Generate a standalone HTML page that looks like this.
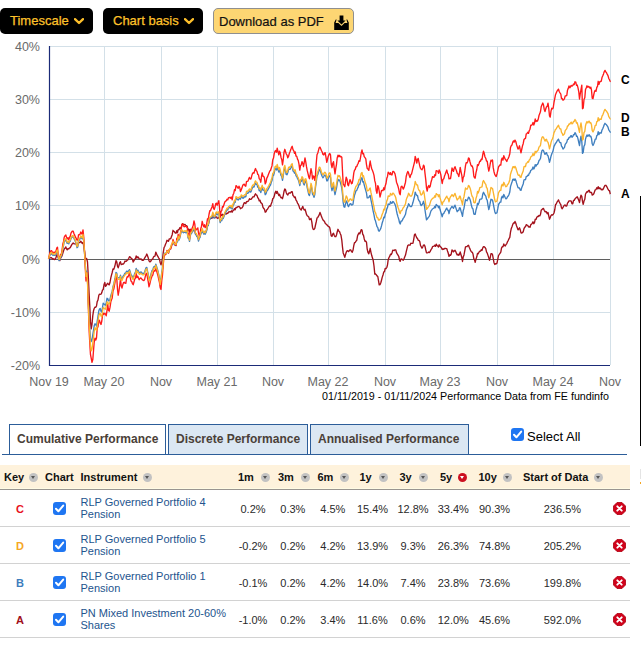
<!DOCTYPE html>
<html><head><meta charset="utf-8"><title>Performance chart</title>
<style>
*{box-sizing:border-box;margin:0;padding:0}
html,body{width:641px;height:648px;overflow:hidden;background:#fff;font-family:"Liberation Sans",Arial,sans-serif;position:relative}
.btn{position:absolute;top:8px;height:26px;border-radius:5px;font-size:13px;line-height:26px;white-space:nowrap}
.blk{background:#000;color:#fec22a;-webkit-text-stroke:0.25px #fec22a}
.blk svg{position:absolute;top:10px}
#b1{left:0;width:93px;padding-left:10px}
#b2{left:103px;width:100px;padding-left:10px}
#b3{left:213px;width:141px;background:#fdd673;border:1px solid #8f8f8f;color:#111;padding-left:5px;line-height:25px;-webkit-text-stroke:0.2px #111}
#b3 svg{position:absolute;left:119.5px;top:4.5px}
.chart{position:absolute;left:0;top:0}
.yl{font-size:12.5px;fill:#6a6a6a}
.xl{font-size:12.5px;fill:#6a6a6a}
.cr{font-size:11px;fill:#000}
.sl{font-size:12px;font-weight:bold;fill:#000}
.tabline{position:absolute;left:2px;top:454px;width:625px;height:1px;background:#2c5d99}
.tab{position:absolute;top:424px;height:30px;border:1px solid #2c5d99;border-bottom:none;font-size:12px;font-weight:bold;color:#4a4038;line-height:28px;white-space:nowrap}
#t1{left:9px;width:157px;background:#fff;padding-left:7px}
#t2{left:168px;width:140px;background:#dbe7f3;padding-left:7px}
#t3{left:310px;width:159px;background:#dbe7f3;padding-left:7px}
.cb{position:absolute;width:13px;height:13px;border-radius:3px;background:#1f76f2}
.cb svg{position:absolute;left:0;top:0}
#sa{position:absolute;left:527px;top:429px;font-size:13px;color:#000;line-height:15px}
.hdr{position:absolute;left:0;top:465px;width:630px;height:25px;background:linear-gradient(#fef2dc 0,#fef2dc 23px,#fffbe4 23px);border-bottom:1px solid #999590}
.h{position:absolute;top:471px;font-size:11px;font-weight:bold;color:#111;line-height:12px;white-space:nowrap}
.si{position:absolute;top:473px;width:9px;height:9px;border-radius:50%;background:#c2c2c2}
.si:after{content:"";position:absolute;left:2px;top:3px;border-left:2.5px solid transparent;border-right:2.5px solid transparent;border-top:3px solid #555}
.si.red{background:#cc1020}
.si.red:after{border-top-color:#fff}
.row{position:absolute;left:0;width:630px;height:37px;border-bottom:1px solid #d2d2d2}
.key{position:absolute;left:0;width:40px;text-align:center;font-size:11px;font-weight:bold;top:13px;line-height:12px}
.row .cb{left:53px;top:12px}
.ins{position:absolute;left:80.5px;top:6px;font-size:11px;line-height:12px;color:#23548e}
.v{position:absolute;top:13px;font-size:11px;color:#2a2a2a;line-height:12px;white-space:nowrap;transform:translateX(-50%)}
.del{position:absolute;left:613px;top:12px}
</style></head><body>
<div class="btn blk" id="b1">Timescale<svg style="left:74px" width="10" height="7" viewBox="0 0 10 7"><path d="M1 1.2 L5 5 L9 1.2" fill="none" stroke="#fdbf2b" stroke-width="2.4" stroke-linecap="round" stroke-linejoin="round"/></svg></div>
<div class="btn blk" id="b2">Chart basis<svg style="left:81px" width="10" height="7" viewBox="0 0 10 7"><path d="M1 1.2 L5 5 L9 1.2" fill="none" stroke="#fdbf2b" stroke-width="2.4" stroke-linecap="round" stroke-linejoin="round"/></svg></div>
<div class="btn" id="b3">Download as PDF<svg width="17" height="17" viewBox="0 0 17 17"><path d="M5.6 1.5 H9.4 V6.6 H11.6 L7.5 10.6 L3.4 6.6 H5.6 Z" fill="#000"/><path d="M0.2 15.9 V8.6 L1.8 5.6 H2.6 L1.6 8.9 H4.4 L7.5 11.9 L10.6 8.9 H13.4 L12.4 5.6 H13.2 L14.8 8.6 V15.9 Z" fill="#000"/></svg></div>
<svg class="chart" width="641" height="410" viewBox="0 0 641 410">
<line x1="104.5" y1="46" x2="104.5" y2="365" stroke="#d3e0e8" stroke-width="1"/>
<line x1="161.5" y1="46" x2="161.5" y2="365" stroke="#d3e0e8" stroke-width="1"/>
<line x1="217.5" y1="46" x2="217.5" y2="365" stroke="#d3e0e8" stroke-width="1"/>
<line x1="273.5" y1="46" x2="273.5" y2="365" stroke="#d3e0e8" stroke-width="1"/>
<line x1="328.5" y1="46" x2="328.5" y2="365" stroke="#d3e0e8" stroke-width="1"/>
<line x1="385.5" y1="46" x2="385.5" y2="365" stroke="#d3e0e8" stroke-width="1"/>
<line x1="440.5" y1="46" x2="440.5" y2="365" stroke="#d3e0e8" stroke-width="1"/>
<line x1="497.5" y1="46" x2="497.5" y2="365" stroke="#d3e0e8" stroke-width="1"/>
<line x1="553.5" y1="46" x2="553.5" y2="365" stroke="#d3e0e8" stroke-width="1"/>
<line x1="610.5" y1="46" x2="610.5" y2="365" stroke="#d3e0e8" stroke-width="1"/>
<line x1="49" y1="46.5" x2="611" y2="46.5" stroke="#d3e0e8" stroke-width="1"/>
<line x1="49" y1="99.5" x2="611" y2="99.5" stroke="#d3e0e8" stroke-width="1"/>
<line x1="49" y1="152.5" x2="611" y2="152.5" stroke="#d3e0e8" stroke-width="1"/>
<line x1="49" y1="205.5" x2="611" y2="205.5" stroke="#d3e0e8" stroke-width="1"/>
<line x1="49" y1="312.5" x2="611" y2="312.5" stroke="#d3e0e8" stroke-width="1"/>
<line x1="49" y1="259.5" x2="610" y2="259.5" stroke="#5f5f5f" stroke-width="1"/>
<line x1="49.5" y1="46" x2="49.5" y2="366" stroke="#1b2b78" stroke-width="1.2"/>
<line x1="49" y1="365.5" x2="610" y2="365.5" stroke="#1b2b78" stroke-width="1.2"/>
<text x="40" y="50.5" text-anchor="end" class="yl">40%</text>
<text x="40" y="103.5" text-anchor="end" class="yl">30%</text>
<text x="40" y="156.5" text-anchor="end" class="yl">20%</text>
<text x="40" y="209.5" text-anchor="end" class="yl">10%</text>
<text x="40" y="263.5" text-anchor="end" class="yl">0%</text>
<text x="40" y="316.5" text-anchor="end" class="yl">-10%</text>
<text x="40" y="369.5" text-anchor="end" class="yl">-20%</text>
<text x="49" y="386" text-anchor="middle" class="xl">Nov 19</text>
<text x="104" y="386" text-anchor="middle" class="xl">May 20</text>
<text x="161" y="386" text-anchor="middle" class="xl">Nov</text>
<text x="217" y="386" text-anchor="middle" class="xl">May 21</text>
<text x="273" y="386" text-anchor="middle" class="xl">Nov</text>
<text x="328" y="386" text-anchor="middle" class="xl">May 22</text>
<text x="385" y="386" text-anchor="middle" class="xl">Nov</text>
<text x="440" y="386" text-anchor="middle" class="xl">May 23</text>
<text x="497" y="386" text-anchor="middle" class="xl">Nov</text>
<text x="553" y="386" text-anchor="middle" class="xl">May 24</text>
<text x="610" y="386" text-anchor="middle" class="xl">Nov</text>
<text x="322" y="400" textLength="287" lengthAdjust="spacingAndGlyphs" class="cr">01/11/2019 - 01/11/2024 Performance Data from FE fundinfo</text>
<polyline fill="none" stroke="#a3111b" stroke-width="1.35" stroke-linejoin="round" points="48.5,258.7 49.2,258.2 50.0,257.7 50.8,257.8 51.5,257.7 52.2,258.4 53.0,259.2 53.8,258.8 54.5,259.5 55.2,259.4 56.0,257.4 56.8,255.3 57.5,253.4 58.2,257.7 59.0,259.6 59.8,260.6 60.5,258.5 61.2,257.2 62.0,255.8 62.8,253.2 63.5,251.0 64.2,249.0 65.0,248.2 65.8,246.9 66.5,248.7 67.2,249.9 68.0,248.6 68.8,249.0 69.5,247.8 70.2,247.8 71.0,246.1 71.8,244.7 72.5,243.6 73.2,243.0 74.0,243.8 74.8,243.9 75.5,243.9 76.2,243.9 77.0,244.6 77.8,245.0 78.5,242.7 79.2,242.4 80.0,242.5 80.8,241.2 81.5,242.3 82.2,243.3 83.0,242.4 83.8,246.3 84.5,250.9 85.2,256.4 86.0,259.2 86.8,258.8 87.5,262.0 88.2,274.4 89.0,291.4 89.8,306.6 90.5,321.9 91.2,328.8 92.0,324.3 92.8,315.6 93.5,310.8 94.2,308.5 95.0,307.1 95.8,307.3 96.5,306.0 97.2,301.6 98.0,300.0 98.8,295.3 99.5,294.2 100.2,294.4 101.0,294.2 101.8,292.6 102.5,290.0 103.2,289.6 104.0,284.8 104.8,282.4 105.5,286.3 106.2,285.7 107.0,283.9 107.8,283.2 108.5,284.5 109.2,284.9 110.0,282.5 110.8,277.9 111.5,275.1 112.2,272.5 113.0,269.0 113.8,269.3 114.5,267.2 115.2,264.6 116.0,260.7 116.8,261.9 117.5,266.2 118.2,267.8 119.0,265.3 119.8,262.4 120.5,261.8 121.2,264.6 122.0,264.4 122.8,263.9 123.5,264.0 124.2,262.8 125.0,261.0 125.8,261.5 126.5,261.1 127.2,260.3 128.0,259.8 128.8,258.2 129.5,256.7 130.2,257.0 131.0,258.1 131.8,258.5 132.5,259.6 133.2,262.0 134.0,260.7 134.8,259.1 135.5,258.7 136.2,256.0 137.0,258.0 137.8,256.8 138.5,257.6 139.2,258.8 140.0,259.1 140.8,259.0 141.5,259.1 142.2,260.3 143.0,260.4 143.8,259.7 144.5,258.3 145.2,257.1 146.0,255.8 146.8,254.0 147.5,255.8 148.2,257.7 149.0,260.8 149.8,261.8 150.5,261.6 151.2,260.4 152.0,259.4 152.8,258.9 153.5,256.9 154.2,256.3 155.0,256.1 155.8,252.1 156.5,253.7 157.2,255.4 158.0,256.7 158.8,258.1 159.5,259.1 160.2,262.5 161.0,264.9 161.8,261.7 162.5,259.0 163.2,252.9 164.0,247.8 164.8,246.2 165.5,244.3 166.2,242.8 167.0,240.3 167.8,241.0 168.5,241.3 169.2,239.0 170.0,238.8 170.8,238.5 171.5,236.6 172.2,234.7 173.0,230.3 173.8,231.3 174.5,231.8 175.2,233.0 176.0,233.2 176.8,230.7 177.5,232.7 178.2,229.6 179.0,229.7 179.8,227.7 180.5,228.2 181.2,227.5 182.0,224.3 182.8,223.6 183.5,224.6 184.2,224.7 185.0,224.5 185.8,225.6 186.5,225.7 187.2,226.3 188.0,229.8 188.8,229.3 189.5,232.0 190.2,229.3 191.0,229.4 191.8,231.4 192.5,231.1 193.2,230.6 194.0,228.4 194.8,230.3 195.5,233.6 196.2,234.4 197.0,235.9 197.8,237.2 198.5,238.8 199.2,237.2 200.0,236.5 200.8,233.1 201.5,232.0 202.2,230.3 203.0,232.1 203.8,233.2 204.5,231.4 205.2,232.5 206.0,231.6 206.8,228.6 207.5,225.1 208.2,225.0 209.0,221.5 209.8,218.7 210.5,218.3 211.2,218.0 212.0,218.3 212.8,216.4 213.5,217.5 214.2,217.5 215.0,217.7 215.8,216.8 216.5,216.8 217.2,218.3 218.0,218.1 218.8,217.5 219.5,217.8 220.2,216.2 221.0,214.6 221.8,215.5 222.5,214.3 223.2,215.6 224.0,214.9 224.8,213.9 225.5,213.9 226.2,214.1 227.0,213.1 227.8,213.5 228.5,212.0 229.2,212.0 230.0,211.6 230.8,212.0 231.5,210.8 232.2,212.1 233.0,210.5 233.8,210.1 234.5,208.6 235.2,209.7 236.0,207.4 236.8,207.6 237.5,206.9 238.2,206.6 239.0,206.5 239.8,207.2 240.5,208.7 241.2,208.1 242.0,207.8 242.8,206.7 243.5,204.4 244.2,202.7 245.0,202.9 245.8,203.6 246.5,201.6 247.2,201.5 248.0,201.5 248.8,200.3 249.5,198.7 250.2,199.3 251.0,199.4 251.8,198.5 252.5,197.2 253.2,196.8 254.0,196.9 254.8,195.0 255.5,193.8 256.2,194.9 257.0,195.4 257.8,197.7 258.5,198.4 259.2,200.9 260.0,200.2 260.8,202.7 261.5,203.1 262.2,204.0 263.0,207.4 263.8,208.5 264.5,209.3 265.2,212.2 266.0,211.7 266.8,209.8 267.5,209.2 268.2,208.0 269.0,206.7 269.8,205.7 270.5,206.2 271.2,203.9 272.0,201.9 272.8,198.5 273.5,198.2 274.2,196.3 275.0,193.0 275.8,191.2 276.5,193.4 277.2,191.5 278.0,193.6 278.8,195.6 279.5,194.3 280.2,196.2 281.0,197.8 281.8,197.4 282.5,198.7 283.2,195.8 284.0,191.5 284.8,188.9 285.5,189.7 286.2,192.4 287.0,194.3 287.8,195.0 288.5,193.4 289.2,192.8 290.0,193.2 290.8,192.5 291.5,191.7 292.2,191.7 293.0,195.6 293.8,196.3 294.5,197.6 295.2,197.0 296.0,200.2 296.8,201.2 297.5,203.1 298.2,204.1 299.0,206.0 299.8,208.6 300.5,209.2 301.2,210.1 302.0,208.1 302.8,206.4 303.5,208.7 304.2,210.0 305.0,209.3 305.8,211.8 306.5,214.4 307.2,215.7 308.0,216.3 308.8,217.0 309.5,219.6 310.2,219.4 311.0,218.4 311.8,221.8 312.5,227.2 313.2,229.4 314.0,229.5 314.8,228.3 315.5,225.0 316.2,222.0 317.0,218.1 317.8,217.4 318.5,216.2 319.2,214.9 320.0,212.4 320.8,214.5 321.5,216.6 322.2,218.2 323.0,219.9 323.8,220.7 324.5,221.4 325.2,223.2 326.0,224.0 326.8,224.7 327.5,225.5 328.2,226.3 329.0,226.6 329.8,227.9 330.5,231.7 331.2,235.8 332.0,236.4 332.8,233.9 333.5,233.2 334.2,235.3 335.0,236.6 335.8,236.7 336.5,235.0 337.2,232.0 338.0,229.3 338.8,231.2 339.5,231.5 340.2,233.5 341.0,235.3 341.8,240.1 342.5,247.1 343.2,252.9 344.0,255.0 344.8,257.4 345.5,254.7 346.2,252.4 347.0,250.9 347.8,250.7 348.5,251.6 349.2,251.0 350.0,249.8 350.8,249.9 351.5,251.6 352.2,252.2 353.0,250.3 353.8,245.5 354.5,242.7 355.2,242.5 356.0,241.1 356.8,240.2 357.5,236.1 358.2,234.3 359.0,232.9 359.8,233.9 360.5,231.8 361.2,229.6 362.0,230.1 362.8,234.5 363.5,235.3 364.2,238.7 365.0,241.4 365.8,241.2 366.5,242.3 367.2,249.2 368.0,252.5 368.8,253.8 369.5,251.3 370.2,248.3 371.0,252.6 371.8,255.8 372.5,258.0 373.2,260.3 374.0,266.0 374.8,274.1 375.5,274.0 376.2,274.7 377.0,275.9 377.8,276.5 378.5,280.7 379.2,284.9 380.0,284.7 380.8,282.8 381.5,280.2 382.2,277.4 383.0,275.0 383.8,271.9 384.5,271.6 385.2,268.4 386.0,268.7 386.8,267.5 387.5,264.8 388.2,259.7 389.0,257.5 389.8,256.2 390.5,254.1 391.2,254.6 392.0,253.0 392.8,250.1 393.5,250.4 394.2,250.5 395.0,249.8 395.8,249.9 396.5,252.6 397.2,253.9 398.0,255.1 398.8,256.5 399.5,260.0 400.2,261.4 401.0,258.9 401.8,259.2 402.5,259.6 403.2,260.3 404.0,258.8 404.8,256.7 405.5,255.1 406.2,251.8 407.0,248.7 407.8,245.5 408.5,244.9 409.2,245.1 410.0,245.2 410.8,243.2 411.5,243.3 412.2,243.3 413.0,243.2 413.8,238.9 414.5,234.7 415.2,234.0 416.0,236.1 416.8,237.9 417.5,238.4 418.2,240.3 419.0,240.4 419.8,241.7 420.5,245.5 421.2,246.7 422.0,248.2 422.8,246.8 423.5,245.1 424.2,244.9 425.0,246.4 425.8,250.0 426.5,252.8 427.2,252.9 428.0,252.6 428.8,252.0 429.5,252.5 430.2,251.4 431.0,249.7 431.8,248.7 432.5,246.8 433.2,246.3 434.0,246.2 434.8,245.2 435.5,246.4 436.2,244.2 437.0,245.6 437.8,246.0 438.5,247.0 439.2,244.8 440.0,246.1 440.8,247.1 441.5,247.7 442.2,249.5 443.0,248.9 443.8,249.4 444.5,248.3 445.2,248.3 446.0,248.5 446.8,248.6 447.5,251.0 448.2,253.0 449.0,256.4 449.8,254.9 450.5,255.4 451.2,254.1 452.0,250.0 452.8,250.6 453.5,251.8 454.2,251.0 455.0,250.3 455.8,251.7 456.5,253.4 457.2,255.0 458.0,254.2 458.8,255.3 459.5,254.2 460.2,252.0 461.0,254.7 461.8,257.5 462.5,261.5 463.2,257.1 464.0,254.9 464.8,250.6 465.5,246.8 466.2,246.6 467.0,246.7 467.8,245.7 468.5,245.3 469.2,247.3 470.0,248.9 470.8,250.9 471.5,252.0 472.2,252.1 473.0,254.0 473.8,258.7 474.5,259.8 475.2,262.4 476.0,258.9 476.8,256.8 477.5,253.4 478.2,253.8 479.0,252.2 479.8,251.1 480.5,251.2 481.2,249.8 482.0,250.4 482.8,247.8 483.5,246.6 484.2,246.6 485.0,247.5 485.8,248.6 486.5,251.8 487.2,253.0 488.0,255.4 488.8,257.8 489.5,260.2 490.2,257.7 491.0,253.7 491.8,253.6 492.5,254.5 493.2,258.3 494.0,262.7 494.8,264.5 495.5,263.7 496.2,263.9 497.0,263.1 497.8,259.1 498.5,255.6 499.2,254.5 500.0,253.3 500.8,252.2 501.5,248.1 502.2,246.7 503.0,246.7 503.8,244.0 504.5,245.5 505.2,246.0 506.0,244.7 506.8,243.6 507.5,241.7 508.2,240.6 509.0,238.7 509.8,237.4 510.5,232.1 511.2,228.8 512.0,226.8 512.8,224.4 513.5,223.0 514.2,223.2 515.0,221.4 515.8,223.3 516.5,225.7 517.2,227.6 518.0,229.9 518.8,229.1 519.5,227.8 520.2,229.7 521.0,232.8 521.8,233.1 522.5,232.4 523.2,231.9 524.0,228.6 524.8,227.1 525.5,226.7 526.2,224.6 527.0,225.1 527.8,225.4 528.5,227.0 529.2,226.7 530.0,227.3 530.8,224.6 531.5,224.1 532.2,223.4 533.0,221.8 533.8,223.7 534.5,222.6 535.2,219.3 536.0,219.4 536.8,217.3 537.5,216.4 538.2,216.5 539.0,215.5 539.8,215.9 540.5,214.3 541.2,210.3 542.0,209.5 542.8,208.7 543.5,208.4 544.2,210.2 545.0,211.8 545.8,211.5 546.5,211.9 547.2,213.7 548.0,212.5 548.8,216.1 549.5,219.2 550.2,217.8 551.0,215.4 551.8,214.7 552.5,215.1 553.2,214.5 554.0,213.0 554.8,209.5 555.5,204.8 556.2,204.0 557.0,202.2 557.8,201.0 558.5,199.9 559.2,201.8 560.0,203.3 560.8,204.7 561.5,207.9 562.2,208.7 563.0,207.3 563.8,206.0 564.5,205.1 565.2,205.0 566.0,206.2 566.8,205.9 567.5,203.1 568.2,202.3 569.0,200.9 569.8,200.8 570.5,200.8 571.2,201.2 572.0,203.7 572.8,203.7 573.5,200.5 574.2,200.4 575.0,198.9 575.8,197.9 576.5,197.7 577.2,196.7 578.0,198.4 578.8,200.4 579.5,202.6 580.2,198.4 581.0,195.2 581.8,196.3 582.5,201.4 583.2,204.4 584.0,201.1 584.8,199.3 585.5,194.0 586.2,192.9 587.0,191.7 587.8,192.0 588.5,190.4 589.2,190.3 590.0,192.5 590.8,192.3 591.5,192.4 592.2,195.0 593.0,194.7 593.8,193.8 594.5,191.8 595.2,189.8 596.0,189.6 596.8,187.8 597.5,188.8 598.2,186.6 599.0,188.9 599.8,187.8 600.5,188.4 601.2,189.8 602.0,189.4 602.8,189.8 603.5,188.4 604.2,186.8 605.0,185.4 605.8,185.3 606.5,186.1 607.2,187.5 608.0,189.1 608.8,190.5 609.5,190.6 610.2,193.9 610.3,194.1"/>
<polyline fill="none" stroke="#3f7fbf" stroke-width="1.35" stroke-linejoin="round" points="48.5,258.7 49.2,256.9 50.0,255.1 50.8,254.0 51.5,253.7 52.2,254.5 53.0,255.4 53.8,254.7 54.5,255.3 55.2,255.3 56.0,253.9 56.8,251.9 57.5,251.2 58.2,256.9 59.0,260.5 59.8,259.9 60.5,257.4 61.2,256.7 62.0,253.3 62.8,248.6 63.5,245.5 64.2,241.8 65.0,240.6 65.8,240.0 66.5,241.8 67.2,243.4 68.0,242.4 68.8,243.8 69.5,241.9 70.2,241.3 71.0,238.6 71.8,237.4 72.5,236.8 73.2,236.8 74.0,238.6 74.8,240.0 75.5,241.9 76.2,244.3 77.0,247.7 77.8,247.0 78.5,241.1 79.2,240.1 80.0,238.9 80.8,237.1 81.5,238.1 82.2,238.9 83.0,235.7 83.8,241.8 84.5,252.6 85.2,263.1 86.0,275.4 86.8,271.2 87.5,280.3 88.2,299.6 89.0,317.1 89.8,329.2 90.5,338.7 91.2,341.5 92.0,339.9 92.8,334.5 93.5,330.4 94.2,325.8 95.0,323.8 95.8,324.5 96.5,326.2 97.2,321.4 98.0,316.2 98.8,311.0 99.5,309.1 100.2,308.5 101.0,311.2 101.8,312.1 102.5,307.4 103.2,303.2 104.0,304.1 104.8,304.8 105.5,305.3 106.2,302.7 107.0,298.3 107.8,298.7 108.5,300.9 109.2,300.9 110.0,299.2 110.8,295.7 111.5,293.4 112.2,291.2 113.0,286.7 113.8,283.9 114.5,280.7 115.2,277.4 116.0,272.4 116.8,273.3 117.5,277.3 118.2,277.7 119.0,277.9 119.8,277.5 120.5,275.1 121.2,278.7 122.0,279.0 122.8,276.8 123.5,275.6 124.2,274.6 125.0,273.1 125.8,273.0 126.5,271.2 127.2,271.2 128.0,272.0 128.8,270.7 129.5,269.6 130.2,271.7 131.0,274.7 131.8,275.6 132.5,277.3 133.2,277.9 134.0,275.6 134.8,273.1 135.5,272.2 136.2,268.5 137.0,271.3 137.8,270.1 138.5,271.4 139.2,272.9 140.0,272.7 140.8,271.9 141.5,272.4 142.2,273.2 143.0,273.5 143.8,273.5 144.5,272.5 145.2,270.2 146.0,267.8 146.8,267.4 147.5,271.1 148.2,274.0 149.0,278.4 149.8,279.6 150.5,276.1 151.2,273.2 152.0,270.6 152.8,269.9 153.5,267.4 154.2,266.5 155.0,266.9 155.8,264.1 156.5,266.3 157.2,268.4 158.0,271.1 158.8,274.9 159.5,278.3 160.2,283.1 161.0,278.8 161.8,272.1 162.5,268.6 163.2,260.9 164.0,254.2 164.8,253.1 165.5,253.3 166.2,253.6 167.0,251.1 167.8,252.4 168.5,253.0 169.2,250.5 170.0,249.3 170.8,247.8 171.5,245.3 172.2,244.4 173.0,242.3 173.8,244.0 174.5,244.6 175.2,245.4 176.0,245.5 176.8,241.9 177.5,241.8 178.2,237.3 179.0,240.0 179.8,238.0 180.5,234.9 181.2,231.6 182.0,231.2 182.8,232.2 183.5,232.8 184.2,232.3 185.0,232.1 185.8,232.8 186.5,231.7 187.2,232.5 188.0,238.0 188.8,237.7 189.5,241.4 190.2,236.1 191.0,233.8 191.8,233.0 192.5,231.4 193.2,230.5 194.0,228.7 194.8,230.7 195.5,234.4 196.2,234.9 197.0,236.6 197.8,237.7 198.5,241.0 199.2,238.7 200.0,237.5 200.8,233.6 201.5,232.7 202.2,229.9 203.0,232.4 203.8,234.1 204.5,233.0 205.2,234.2 206.0,232.5 206.8,230.3 207.5,226.1 208.2,225.7 209.0,221.1 209.8,218.8 210.5,218.7 211.2,217.7 212.0,217.5 212.8,213.8 213.5,215.5 214.2,218.0 215.0,217.4 215.8,214.3 216.5,213.5 217.2,214.7 218.0,213.5 218.8,213.3 219.5,219.2 220.2,222.6 221.0,220.6 221.8,220.6 222.5,217.7 223.2,218.5 224.0,216.5 224.8,214.0 225.5,212.6 226.2,211.4 227.0,209.6 227.8,210.0 228.5,208.1 229.2,207.8 230.0,207.0 230.8,208.0 231.5,207.0 232.2,209.2 233.0,205.6 233.8,204.5 234.5,201.8 235.2,202.4 236.0,198.4 236.8,198.7 237.5,199.4 238.2,200.0 239.0,198.8 239.8,198.7 240.5,199.1 241.2,196.7 242.0,197.1 242.8,198.2 243.5,198.0 244.2,197.0 245.0,196.5 245.8,196.8 246.5,193.4 247.2,193.1 248.0,193.3 248.8,191.8 249.5,190.9 250.2,192.1 251.0,191.8 251.8,189.3 252.5,187.5 253.2,187.0 254.0,187.1 254.8,184.6 255.5,183.1 256.2,184.2 257.0,184.6 257.8,187.2 258.5,187.7 259.2,190.7 260.0,190.2 260.8,192.6 261.5,189.7 262.2,187.7 263.0,190.2 263.8,190.1 264.5,191.0 265.2,194.7 266.0,193.8 266.8,191.0 267.5,190.4 268.2,189.1 269.0,187.7 269.8,185.9 270.5,185.0 271.2,182.6 272.0,180.6 272.8,175.8 273.5,175.5 274.2,173.1 275.0,169.2 275.8,168.5 276.5,170.0 277.2,166.9 278.0,169.6 278.8,172.0 279.5,169.9 280.2,172.0 281.0,175.5 281.8,176.7 282.5,180.3 283.2,176.1 284.0,170.1 284.8,167.8 285.5,171.0 286.2,174.5 287.0,174.7 287.8,172.5 288.5,169.8 289.2,169.2 290.0,169.4 290.8,168.0 291.5,166.4 292.2,165.8 293.0,170.9 293.8,171.6 294.5,173.2 295.2,172.1 296.0,175.7 296.8,176.6 297.5,178.5 298.2,179.6 299.0,182.1 299.8,185.6 300.5,181.8 301.2,181.5 302.0,178.7 302.8,179.9 303.5,183.6 304.2,185.0 305.0,181.3 305.8,181.0 306.5,183.5 307.2,187.6 308.0,191.2 308.8,194.8 309.5,195.5 310.2,191.1 311.0,185.8 311.8,188.6 312.5,194.1 313.2,195.1 314.0,197.4 314.8,194.6 315.5,187.2 316.2,182.3 317.0,176.2 317.8,174.5 318.5,172.1 319.2,169.7 320.0,170.1 320.8,172.4 321.5,174.7 322.2,176.5 323.0,177.8 323.8,176.5 324.5,175.1 325.2,175.2 326.0,176.7 326.8,180.9 327.5,180.9 328.2,178.9 329.0,176.2 329.8,175.7 330.5,177.4 331.2,186.6 332.0,190.7 332.8,187.1 333.5,185.9 334.2,190.3 335.0,194.7 335.8,190.9 336.5,188.1 337.2,183.6 338.0,179.5 338.8,180.5 339.5,180.0 340.2,181.8 341.0,184.7 341.8,188.2 342.5,194.5 343.2,202.6 344.0,206.8 344.8,207.2 345.5,203.8 346.2,200.9 347.0,202.0 347.8,205.4 348.5,206.6 349.2,205.2 350.0,203.8 350.8,203.6 351.5,205.0 352.2,204.9 353.0,204.2 353.8,198.5 354.5,195.3 355.2,193.2 356.0,190.7 356.8,190.4 357.5,188.4 358.2,187.1 359.0,184.2 359.8,184.6 360.5,181.5 361.2,178.3 362.0,177.7 362.8,182.0 363.5,181.6 364.2,184.8 365.0,187.8 365.8,190.6 366.5,193.1 367.2,197.9 368.0,197.9 368.8,197.5 369.5,196.1 370.2,195.4 371.0,200.1 371.8,203.9 372.5,207.6 373.2,211.3 374.0,214.8 374.8,219.4 375.5,220.8 376.2,223.6 377.0,226.6 377.8,227.6 378.5,230.7 379.2,231.2 380.0,229.9 380.8,228.4 381.5,225.9 382.2,223.0 383.0,220.5 383.8,217.2 384.5,217.7 385.2,214.3 386.0,212.6 386.8,208.9 387.5,207.4 388.2,204.0 389.0,204.4 389.8,204.3 390.5,201.6 391.2,203.0 392.0,203.3 392.8,201.5 393.5,201.9 394.2,203.0 395.0,204.4 395.8,206.7 396.5,210.9 397.2,214.0 398.0,216.9 398.8,219.4 399.5,222.5 400.2,224.0 401.0,221.2 401.8,221.1 402.5,219.9 403.2,218.4 404.0,217.4 404.8,215.7 405.5,214.3 406.2,210.5 407.0,208.1 407.8,206.6 408.5,203.8 409.2,204.6 410.0,206.3 410.8,206.6 411.5,206.5 412.2,204.9 413.0,202.3 413.8,199.1 414.5,196.8 415.2,192.1 416.0,194.1 416.8,195.5 417.5,195.5 418.2,198.9 419.0,200.8 419.8,201.5 420.5,204.4 421.2,205.6 422.0,204.8 422.8,203.4 423.5,201.3 424.2,204.1 425.0,210.0 425.8,215.4 426.5,219.8 427.2,219.1 428.0,217.8 428.8,216.9 429.5,215.9 430.2,213.4 431.0,210.9 431.8,209.9 432.5,208.8 433.2,208.5 434.0,208.1 434.8,206.4 435.5,207.7 436.2,204.5 437.0,205.3 437.8,205.7 438.5,207.8 439.2,206.2 440.0,209.3 440.8,212.1 441.5,214.3 442.2,216.7 443.0,213.8 443.8,213.4 444.5,211.8 445.2,210.8 446.0,209.2 446.8,208.0 447.5,210.1 448.2,210.2 449.0,213.7 449.8,210.2 450.5,208.6 451.2,207.7 452.0,206.4 452.8,207.4 453.5,208.3 454.2,206.6 455.0,205.2 455.8,207.6 456.5,209.7 457.2,211.7 458.0,210.6 458.8,210.3 459.5,207.8 460.2,207.9 461.0,211.1 461.8,213.6 462.5,216.3 463.2,210.8 464.0,208.2 464.8,203.5 465.5,199.6 466.2,200.3 467.0,200.8 467.8,199.3 468.5,197.1 469.2,197.5 470.0,199.4 470.8,202.3 471.5,205.8 472.2,208.0 473.0,209.0 473.8,213.9 474.5,214.4 475.2,214.3 476.0,210.0 476.8,207.5 477.5,203.3 478.2,204.6 479.0,202.5 479.8,199.4 480.5,199.2 481.2,199.1 482.0,198.5 482.8,193.9 483.5,192.3 484.2,193.6 485.0,195.2 485.8,196.2 486.5,199.2 487.2,200.2 488.0,205.3 488.8,209.6 489.5,206.9 490.2,203.0 491.0,199.2 491.8,199.8 492.5,200.0 493.2,203.3 494.0,207.6 494.8,211.7 495.5,213.6 496.2,213.2 497.0,212.7 497.8,208.7 498.5,204.5 499.2,203.5 500.0,202.2 500.8,202.1 501.5,197.7 502.2,196.2 503.0,197.9 503.8,194.4 504.5,196.0 505.2,197.6 506.0,198.9 506.8,198.3 507.5,196.7 508.2,196.1 509.0,194.5 509.8,192.0 510.5,186.6 511.2,184.4 512.0,182.0 512.8,179.4 513.5,179.1 514.2,180.3 515.0,178.9 515.8,180.3 516.5,182.9 517.2,185.1 518.0,187.6 518.8,188.0 519.5,187.9 520.2,190.1 521.0,190.3 521.8,187.4 522.5,185.7 523.2,184.0 524.0,179.8 524.8,179.6 525.5,179.7 526.2,176.7 527.0,176.3 527.8,175.1 528.5,175.5 529.2,173.4 530.0,172.8 530.8,170.3 531.5,170.0 532.2,169.2 533.0,167.0 533.8,169.0 534.5,167.7 535.2,164.7 536.0,166.1 536.8,164.6 537.5,164.3 538.2,163.1 539.0,160.5 539.8,159.7 540.5,158.3 541.2,153.8 542.0,150.6 542.8,150.0 543.5,150.7 544.2,152.6 545.0,154.4 545.8,153.1 546.5,152.7 547.2,154.9 548.0,155.7 548.8,158.8 549.5,162.3 550.2,159.9 551.0,156.2 551.8,153.7 552.5,152.5 553.2,150.1 554.0,146.4 554.8,144.9 555.5,143.2 556.2,142.8 557.0,141.1 557.8,140.0 558.5,139.1 559.2,141.3 560.0,142.6 560.8,142.7 561.5,146.1 562.2,147.0 563.0,149.1 563.8,148.2 564.5,147.3 565.2,144.4 566.0,143.3 566.8,142.2 567.5,139.5 568.2,139.4 569.0,137.5 569.8,137.6 570.5,136.3 571.2,135.6 572.0,137.3 572.8,136.6 573.5,134.7 574.2,134.8 575.0,132.7 575.8,133.9 576.5,136.3 577.2,136.1 578.0,138.9 578.8,142.7 579.5,145.6 580.2,140.3 581.0,136.2 581.8,141.4 582.5,153.4 583.2,152.4 584.0,146.2 584.8,144.6 585.5,139.1 586.2,136.8 587.0,134.9 587.8,136.4 588.5,135.3 589.2,134.7 590.0,136.5 590.8,136.2 591.5,138.4 592.2,143.8 593.0,145.5 593.8,143.8 594.5,141.8 595.2,139.1 596.0,139.1 596.8,135.5 597.5,135.1 598.2,131.6 599.0,134.5 599.8,132.7 600.5,133.1 601.2,133.1 602.0,130.0 602.8,128.6 603.5,126.8 604.2,124.8 605.0,123.3 605.8,124.3 606.5,124.8 607.2,125.9 608.0,127.2 608.8,129.9 609.5,131.0 610.2,132.2 610.0,132.2"/>
<polyline fill="none" stroke="#ff1a1a" stroke-width="1.35" stroke-linejoin="round" points="48.5,258.7 49.2,255.6 50.0,252.5 50.8,250.8 51.5,250.6 52.2,251.9 53.0,253.6 53.8,252.2 54.5,252.2 55.2,252.9 56.0,251.1 56.8,248.0 57.5,247.2 58.2,255.3 59.0,258.2 59.8,257.4 60.5,254.4 61.2,254.8 62.0,250.5 62.8,244.3 63.5,241.7 64.2,237.3 65.0,235.7 65.8,235.0 66.5,237.2 67.2,238.9 68.0,237.7 68.8,239.9 69.5,237.3 70.2,236.5 71.0,233.2 71.8,231.8 72.5,231.1 73.2,231.2 74.0,233.7 74.8,235.4 75.5,237.2 76.2,238.4 77.0,240.1 77.8,240.1 78.5,234.8 79.2,234.9 80.0,234.3 80.8,232.0 81.5,233.4 82.2,234.2 83.0,229.9 83.8,237.6 84.5,250.9 85.2,266.4 86.0,281.0 86.8,272.5 87.5,279.4 88.2,301.7 89.0,327.7 89.8,343.5 90.5,354.7 91.2,358.2 92.0,362.4 92.8,359.6 93.5,350.7 94.2,342.3 95.0,338.1 95.8,340.1 96.5,338.0 97.2,328.3 98.0,326.8 98.8,320.0 99.5,320.3 100.2,323.1 101.0,324.5 101.8,321.0 102.5,315.7 103.2,313.1 104.0,314.3 104.8,313.2 105.5,314.3 106.2,315.8 107.0,310.3 107.8,304.5 108.5,310.3 109.2,311.2 110.0,307.4 110.8,301.9 111.5,299.9 112.2,298.0 113.0,291.0 113.8,289.1 114.5,285.2 115.2,281.3 116.0,275.0 116.8,278.7 117.5,289.3 118.2,295.2 119.0,290.7 119.8,284.6 120.5,279.0 121.2,285.7 122.0,288.1 122.8,284.7 123.5,282.6 124.2,282.3 125.0,283.2 125.8,283.4 126.5,278.9 127.2,276.7 128.0,277.0 128.8,274.7 129.5,272.4 130.2,277.4 131.0,281.0 131.8,281.8 132.5,283.8 133.2,284.7 134.0,281.9 134.8,279.0 135.5,278.1 136.2,273.5 137.0,277.5 137.8,276.3 138.5,278.3 139.2,279.7 140.0,278.3 140.8,277.9 141.5,278.6 142.2,279.6 143.0,280.2 143.8,280.6 144.5,279.8 145.2,276.9 146.0,273.9 146.8,273.3 147.5,277.9 148.2,281.4 149.0,286.8 149.8,284.1 150.5,280.8 151.2,278.3 152.0,276.2 152.8,275.2 153.5,271.8 154.2,270.6 155.0,271.1 155.8,267.5 156.5,270.3 157.2,273.1 158.0,275.9 158.8,279.6 159.5,282.7 160.2,287.7 161.0,289.5 161.8,280.1 162.5,274.8 163.2,264.9 164.0,256.9 164.8,255.1 165.5,254.4 166.2,254.0 167.0,250.4 167.8,252.1 168.5,253.0 169.2,249.4 170.0,249.2 170.8,248.8 171.5,246.2 172.2,243.9 173.0,239.5 173.8,242.0 174.5,243.0 175.2,245.1 176.0,245.5 176.8,238.2 177.5,239.3 178.2,234.3 179.0,238.2 179.8,236.0 180.5,232.8 181.2,228.9 182.0,224.5 182.8,224.0 183.5,226.1 184.2,226.9 185.0,225.9 185.8,226.5 186.5,227.0 187.2,227.0 188.0,233.7 188.8,233.7 189.5,239.0 190.2,232.3 191.0,229.7 191.8,229.2 192.5,227.2 193.2,225.5 194.0,220.9 194.8,224.1 195.5,230.5 196.2,229.5 197.0,228.9 197.8,227.9 198.5,233.0 199.2,235.5 200.0,233.9 200.8,228.8 201.5,226.2 202.2,221.3 203.0,224.5 203.8,226.9 204.5,224.7 205.2,227.7 206.0,226.7 206.8,223.1 207.5,218.8 208.2,219.5 209.0,214.5 209.8,210.7 210.5,210.8 211.2,208.8 212.0,206.9 212.8,203.6 213.5,208.4 214.2,209.5 215.0,207.1 215.8,203.5 216.5,203.2 217.2,205.4 218.0,202.9 218.8,200.6 219.5,207.5 220.2,217.1 221.0,211.6 221.8,210.4 222.5,206.4 223.2,207.1 224.0,204.5 224.8,202.0 225.5,201.2 226.2,200.9 227.0,199.3 227.8,199.9 228.5,197.6 229.2,197.8 230.0,197.2 230.8,198.4 231.5,197.0 232.2,199.8 233.0,194.9 233.8,193.2 234.5,189.7 235.2,190.6 236.0,185.6 236.8,186.3 237.5,187.4 238.2,188.3 239.0,186.2 239.8,187.8 240.5,191.5 241.2,190.0 242.0,187.7 242.8,185.3 243.5,184.5 244.2,184.1 245.0,185.6 245.8,186.2 246.5,181.7 247.2,181.3 248.0,181.1 248.8,178.8 249.5,177.4 250.2,179.0 251.0,178.8 251.8,175.6 252.5,173.5 253.2,172.8 254.0,173.2 254.8,170.2 255.5,168.5 256.2,170.5 257.0,171.4 257.8,174.5 258.5,174.8 259.2,178.7 260.0,179.4 260.8,182.2 261.5,176.5 262.2,172.8 263.0,176.3 263.8,176.4 264.5,178.3 265.2,183.9 266.0,182.3 266.8,178.1 267.5,176.9 268.2,175.0 269.0,173.0 269.8,170.9 270.5,170.5 271.2,168.2 272.0,165.9 272.8,159.7 273.5,158.1 274.2,153.9 275.0,151.3 275.8,150.4 276.5,152.2 277.2,148.2 278.0,151.7 278.8,154.8 279.5,151.2 280.2,152.6 281.0,157.4 281.8,159.7 282.5,164.9 283.2,159.8 284.0,152.4 284.8,149.3 285.5,151.4 286.2,153.8 287.0,155.0 287.8,157.8 288.5,156.5 289.2,153.8 290.0,151.8 290.8,149.6 291.5,147.4 292.2,146.3 293.0,149.6 293.8,150.9 294.5,153.3 295.2,151.9 296.0,156.0 296.8,156.3 297.5,159.2 298.2,160.4 299.0,164.2 299.8,170.1 300.5,165.5 301.2,165.1 302.0,161.6 302.8,163.4 303.5,166.7 304.2,162.7 305.0,157.9 305.8,162.2 306.5,166.7 307.2,170.4 308.0,173.7 308.8,177.0 309.5,178.7 310.2,174.3 311.0,168.6 311.8,172.5 312.5,179.1 313.2,176.0 314.0,176.6 314.8,180.3 315.5,174.4 316.2,163.7 317.0,154.8 317.8,153.0 318.5,150.4 319.2,147.7 320.0,147.1 320.8,148.9 321.5,150.7 322.2,152.0 323.0,154.5 323.8,155.0 324.5,153.0 325.2,152.8 326.0,157.4 326.8,162.3 327.5,159.5 328.2,156.5 329.0,154.4 329.8,153.5 330.5,154.9 331.2,164.0 332.0,167.7 332.8,163.2 333.5,161.7 334.2,167.8 335.0,173.8 335.8,168.3 336.5,164.3 337.2,157.9 338.0,155.1 338.8,156.8 339.5,155.4 340.2,156.8 341.0,156.5 341.8,157.3 342.5,171.0 343.2,184.1 344.0,185.2 344.8,186.7 345.5,181.6 346.2,177.2 347.0,179.2 347.8,184.8 348.5,185.7 349.2,182.6 350.0,179.6 350.8,181.5 351.5,183.8 352.2,183.3 353.0,179.3 353.8,172.9 354.5,170.2 355.2,169.5 356.0,166.7 356.8,166.5 357.5,164.5 358.2,163.3 359.0,160.6 359.8,161.3 360.5,157.6 361.2,153.0 362.0,150.0 362.8,153.9 363.5,153.4 364.2,156.7 365.0,157.7 365.8,158.8 366.5,164.6 367.2,168.4 368.0,169.1 368.8,170.4 369.5,165.2 370.2,161.0 371.0,166.0 371.8,169.0 372.5,170.6 373.2,172.4 374.0,175.4 374.8,180.9 375.5,183.4 376.2,190.5 377.0,193.2 377.8,185.6 378.5,187.0 379.2,191.1 380.0,197.0 380.8,193.9 381.5,190.7 382.2,190.4 383.0,190.6 383.8,187.8 384.5,189.7 385.2,186.0 386.0,183.5 386.8,178.3 387.5,176.4 388.2,172.2 389.0,173.1 389.8,174.5 390.5,172.6 391.2,174.9 392.0,174.9 392.8,171.5 393.5,171.4 394.2,172.2 395.0,173.9 395.8,177.6 396.5,182.2 397.2,184.1 398.0,186.3 398.8,189.4 399.5,193.5 400.2,194.7 401.0,187.0 401.8,186.1 402.5,187.3 403.2,189.1 404.0,187.6 404.8,184.8 405.5,182.2 406.2,176.5 407.0,173.5 407.8,171.4 408.5,172.7 409.2,175.3 410.0,177.6 410.8,174.7 411.5,174.1 412.2,171.3 413.0,168.2 413.8,164.9 414.5,162.3 415.2,156.4 416.0,159.1 416.8,163.0 417.5,159.5 418.2,158.4 419.0,162.3 419.8,166.0 420.5,168.3 421.2,169.2 422.0,169.8 422.8,168.0 423.5,165.2 424.2,166.2 425.0,173.3 425.8,180.1 426.5,187.9 427.2,191.0 428.0,186.9 428.8,185.5 429.5,187.5 430.2,186.4 431.0,182.2 431.8,179.5 432.5,176.7 433.2,177.1 434.0,177.3 434.8,174.7 435.5,175.6 436.2,170.6 437.0,170.9 437.8,171.1 438.5,173.4 439.2,170.0 440.0,171.7 440.8,174.7 441.5,179.4 442.2,183.5 443.0,179.4 443.8,178.7 444.5,176.1 445.2,174.3 446.0,171.9 446.8,170.0 447.5,173.3 448.2,174.2 449.0,178.9 449.8,178.5 450.5,178.6 451.2,174.5 452.0,168.0 452.8,170.1 453.5,171.3 454.2,168.2 455.0,166.7 455.8,169.0 456.5,170.7 457.2,173.2 458.0,174.1 458.8,176.5 459.5,172.8 460.2,167.4 461.0,171.6 461.8,175.3 462.5,181.8 463.2,177.5 464.0,176.2 464.8,170.8 465.5,165.6 466.2,162.6 467.0,163.0 467.8,161.2 468.5,158.0 469.2,158.4 470.0,161.9 470.8,164.7 471.5,166.1 472.2,165.9 473.0,168.5 473.8,175.9 474.5,177.8 475.2,178.0 476.0,172.6 476.8,169.5 477.5,164.6 478.2,165.5 479.0,163.5 479.8,161.1 480.5,161.3 481.2,159.3 482.0,159.6 482.8,154.4 483.5,151.1 484.2,153.3 485.0,157.0 485.8,158.3 486.5,161.1 487.2,161.2 488.0,166.7 488.8,171.1 489.5,168.2 490.2,164.0 491.0,160.2 491.8,161.0 492.5,160.0 493.2,167.4 494.0,171.7 494.8,174.6 495.5,175.5 496.2,176.5 497.0,173.9 497.8,170.4 498.5,167.0 499.2,166.0 500.0,164.8 500.8,165.0 501.5,159.6 502.2,158.0 503.0,160.2 503.8,155.6 504.5,157.6 505.2,159.2 506.0,160.2 506.8,161.5 507.5,159.4 508.2,158.6 509.0,156.5 509.8,153.8 510.5,147.4 511.2,145.7 512.0,144.9 512.8,142.1 513.5,140.9 514.2,142.1 515.0,140.1 515.8,141.5 516.5,144.4 517.2,146.6 518.0,149.1 518.8,147.8 519.5,145.8 520.2,149.4 521.0,152.9 521.8,149.0 522.5,145.8 523.2,143.7 524.0,139.5 524.8,138.7 525.5,138.3 526.2,134.1 527.0,133.4 527.8,132.3 528.5,133.4 529.2,130.8 530.0,129.2 530.8,125.1 531.5,125.3 532.2,124.8 533.0,122.5 533.8,125.0 534.5,123.1 535.2,119.0 536.0,121.6 536.8,120.7 537.5,121.1 538.2,119.3 539.0,115.5 539.8,113.6 540.5,111.5 541.2,106.8 542.0,104.8 542.8,103.0 543.5,104.9 544.2,109.2 545.0,111.6 545.8,108.7 546.5,106.8 547.2,106.4 548.0,103.1 548.8,108.8 549.5,116.0 550.2,117.1 551.0,111.2 551.8,108.2 552.5,108.9 553.2,107.8 554.0,102.3 554.8,98.3 555.5,94.7 556.2,93.1 557.0,91.2 557.8,90.0 558.5,89.1 559.2,91.5 560.0,92.8 560.8,94.0 561.5,98.6 562.2,98.5 563.0,100.2 563.8,99.7 564.5,98.7 565.2,95.9 566.0,95.8 566.8,95.4 567.5,90.2 568.2,88.6 569.0,85.9 569.8,87.8 570.5,86.9 571.2,85.4 572.0,86.1 572.8,85.5 573.5,84.0 574.2,84.6 575.0,81.8 575.8,82.1 576.5,85.3 577.2,85.0 578.0,87.9 578.8,91.9 579.5,99.0 580.2,94.2 581.0,89.5 581.8,85.1 582.5,108.7 583.2,108.1 584.0,99.5 584.8,97.7 585.5,89.6 586.2,88.0 587.0,85.8 587.8,87.3 588.5,86.4 589.2,86.8 590.0,88.3 590.8,87.1 591.5,90.2 592.2,98.2 593.0,98.7 593.8,94.5 594.5,91.6 595.2,90.4 596.0,91.4 596.8,87.3 597.5,86.5 598.2,81.3 599.0,84.4 599.8,81.6 600.5,81.5 601.2,81.4 602.0,77.6 602.8,75.8 603.5,73.9 604.2,71.8 605.0,70.4 605.8,71.9 606.5,72.7 607.2,74.1 608.0,75.6 608.8,78.5 609.5,79.8 610.2,81.5 610.0,81.5"/>
<polyline fill="none" stroke="#fbb42d" stroke-width="1.35" stroke-linejoin="round" points="48.5,258.7 49.2,256.4 50.0,254.1 50.8,252.7 51.5,252.5 52.2,253.3 53.0,254.3 53.8,253.5 54.5,254.1 55.2,254.1 56.0,252.7 56.8,250.7 57.5,249.9 58.2,255.7 59.0,259.4 59.8,258.7 60.5,256.1 61.2,255.4 62.0,252.1 62.8,247.3 63.5,244.3 64.2,240.6 65.0,239.4 65.8,238.7 66.5,240.6 67.2,242.2 68.0,241.2 68.8,242.7 69.5,240.7 70.2,240.2 71.0,237.4 71.8,236.2 72.5,235.6 73.2,235.6 74.0,237.4 74.8,238.8 75.5,240.6 76.2,243.0 77.0,246.5 77.8,245.8 78.5,239.8 79.2,238.9 80.0,237.8 80.8,235.8 81.5,236.9 82.2,237.7 83.0,234.4 83.8,240.8 84.5,251.9 85.2,263.3 86.0,276.4 86.8,272.9 87.5,282.7 88.2,303.0 89.0,321.6 89.8,335.1 90.5,346.1 91.2,350.9 92.0,349.2 92.8,342.8 93.5,337.4 94.2,331.3 95.0,327.8 95.8,328.6 96.5,330.4 97.2,325.9 98.0,320.9 98.8,315.6 99.5,313.9 100.2,313.4 101.0,316.0 101.8,316.8 102.5,311.8 103.2,307.4 104.0,308.3 104.8,308.8 105.5,309.2 106.2,306.5 107.0,302.0 107.8,302.2 108.5,304.2 109.2,304.0 110.0,302.0 110.8,298.1 111.5,295.4 112.2,292.8 113.0,287.8 113.8,285.2 114.5,282.0 115.2,278.8 116.0,273.7 116.8,274.6 117.5,278.7 118.2,279.1 119.0,279.4 119.8,279.0 120.5,276.5 121.2,280.3 122.0,280.5 122.8,278.3 123.5,277.1 124.2,276.1 125.0,274.6 125.8,274.5 126.5,272.6 127.2,272.6 128.0,273.5 128.8,272.2 129.5,271.0 130.2,273.2 131.0,276.2 131.8,277.0 132.5,278.7 133.2,279.4 134.0,277.0 134.8,274.5 135.5,273.7 136.2,269.9 137.0,272.8 137.8,271.5 138.5,272.8 139.2,274.3 140.0,274.1 140.8,273.3 141.5,273.8 142.2,274.6 143.0,274.9 143.8,274.9 144.5,273.8 145.2,271.6 146.0,269.2 146.8,268.7 147.5,272.5 148.2,275.4 149.0,279.8 149.8,281.0 150.5,277.4 151.2,274.6 152.0,272.0 152.8,271.3 153.5,268.7 154.2,267.8 155.0,268.3 155.8,265.3 156.5,267.6 157.2,269.8 158.0,272.4 158.8,276.2 159.5,279.5 160.2,284.4 161.0,280.0 161.8,273.1 162.5,269.6 163.2,261.7 164.0,254.8 164.8,253.6 165.5,253.6 166.2,253.7 167.0,250.9 167.8,252.0 168.5,252.5 169.2,249.6 170.0,248.5 170.8,246.9 171.5,244.3 172.2,243.4 173.0,241.1 173.8,242.9 174.5,243.5 175.2,244.3 176.0,244.4 176.8,240.7 177.5,240.8 178.2,236.1 179.0,238.9 179.8,236.7 180.5,233.7 181.2,230.4 182.0,230.0 182.8,231.0 183.5,231.6 184.2,231.0 185.0,230.8 185.8,231.6 186.5,230.4 187.2,231.2 188.0,236.9 188.8,236.3 189.5,240.1 190.2,234.8 191.0,232.4 191.8,231.7 192.5,230.0 193.2,229.1 194.0,227.2 194.8,229.2 195.5,233.0 196.2,233.4 197.0,235.1 197.8,236.1 198.5,239.6 199.2,237.3 200.0,236.1 200.8,232.0 201.5,231.2 202.2,228.4 203.0,230.9 203.8,232.7 204.5,231.5 205.2,232.7 206.0,231.0 206.8,228.7 207.5,224.5 208.2,224.3 209.0,219.6 209.8,217.3 210.5,217.2 211.2,216.3 212.0,216.0 212.8,212.2 213.5,214.1 214.2,216.6 215.0,215.9 215.8,212.8 216.5,212.0 217.2,213.2 218.0,212.0 218.8,211.8 219.5,217.8 220.2,221.1 221.0,219.0 221.8,219.1 222.5,216.1 223.2,217.0 224.0,215.0 224.8,212.5 225.5,211.1 226.2,209.9 227.0,208.1 227.8,208.6 228.5,206.6 229.2,206.4 230.0,205.5 230.8,206.6 231.5,205.4 232.2,207.7 233.0,204.0 233.8,202.9 234.5,200.1 235.2,200.8 236.0,196.7 236.8,197.1 237.5,197.7 238.2,198.3 239.0,197.1 239.8,196.9 240.5,197.4 241.2,194.9 242.0,195.3 242.8,196.5 243.5,196.1 244.2,195.0 245.0,194.6 245.8,194.9 246.5,191.4 247.2,191.2 248.0,191.4 248.8,189.9 249.5,188.9 250.2,190.1 251.0,189.8 251.8,187.1 252.5,185.4 253.2,184.8 254.0,185.0 254.8,182.4 255.5,180.9 256.2,182.0 257.0,182.4 257.8,185.0 258.5,185.5 259.2,188.5 260.0,187.9 260.8,190.3 261.5,187.4 262.2,185.3 263.0,187.9 263.8,187.8 264.5,188.5 265.2,192.2 266.0,191.4 266.8,188.6 267.5,188.0 268.2,186.7 269.0,185.3 269.8,183.5 270.5,182.6 271.2,180.1 272.0,178.1 272.8,173.2 273.5,173.1 274.2,170.7 275.0,166.8 275.8,166.1 276.5,167.7 277.2,164.5 278.0,167.2 278.8,169.7 279.5,167.5 280.2,169.7 281.0,173.3 281.8,174.4 282.5,178.0 283.2,173.8 284.0,167.8 284.8,165.5 285.5,168.8 286.2,172.3 287.0,172.5 287.8,170.3 288.5,167.6 289.2,167.0 290.0,167.3 290.8,165.8 291.5,164.2 292.2,163.7 293.0,168.9 293.8,169.5 294.5,171.1 295.2,169.9 296.0,173.7 296.8,174.5 297.5,176.5 298.2,177.6 299.0,180.1 299.8,183.6 300.5,179.7 301.2,179.5 302.0,176.7 302.8,177.7 303.5,181.6 304.2,183.0 305.0,179.1 305.8,178.8 306.5,181.3 307.2,185.3 308.0,188.9 308.8,192.5 309.5,193.3 310.2,188.8 311.0,183.3 311.8,186.2 312.5,191.7 313.2,192.7 314.0,195.0 314.8,192.1 315.5,184.7 316.2,179.7 317.0,173.6 317.8,171.9 318.5,169.5 319.2,167.1 320.0,167.4 320.8,169.7 321.5,172.0 322.2,173.7 323.0,175.0 323.8,173.7 324.5,172.3 325.2,172.4 326.0,173.9 326.8,177.9 327.5,178.0 328.2,175.9 329.0,173.2 329.8,172.7 330.5,174.4 331.2,183.4 332.0,187.4 332.8,183.7 333.5,182.4 334.2,186.8 335.0,191.1 335.8,187.1 336.5,184.3 337.2,179.6 338.0,175.3 338.8,176.3 339.5,175.7 340.2,177.4 341.0,180.2 341.8,183.5 342.5,189.8 343.2,197.9 344.0,201.9 344.8,202.2 345.5,198.8 346.2,196.0 347.0,197.1 347.8,200.5 348.5,201.8 349.2,200.4 350.0,199.0 350.8,198.9 351.5,200.3 352.2,200.2 353.0,199.6 353.8,193.7 354.5,190.6 355.2,188.5 356.0,186.1 356.8,185.8 357.5,183.9 358.2,182.6 359.0,179.5 359.8,179.9 360.5,176.7 361.2,173.2 362.0,172.5 362.8,176.6 363.5,175.8 364.2,178.8 365.0,181.6 365.8,184.0 366.5,186.3 367.2,190.9 368.0,190.8 368.8,190.3 369.5,188.8 370.2,188.0 371.0,192.7 371.8,196.4 372.5,200.0 373.2,203.6 374.0,207.0 374.8,211.6 375.5,212.6 376.2,215.0 377.0,217.5 377.8,217.8 378.5,220.1 379.2,220.0 380.0,219.2 380.8,218.5 381.5,216.5 382.2,214.2 383.0,212.5 383.8,209.2 384.5,209.8 385.2,206.4 386.0,204.8 386.8,200.9 387.5,199.4 388.2,195.9 389.0,196.4 389.8,196.2 390.5,193.4 391.2,194.7 392.0,195.0 392.8,193.1 393.5,193.4 394.2,194.5 395.0,195.8 395.8,197.8 396.5,201.7 397.2,204.6 398.0,207.2 398.8,209.4 399.5,212.3 400.2,213.6 401.0,210.6 401.8,210.6 402.5,209.3 403.2,207.8 404.0,206.9 404.8,205.2 405.5,203.8 406.2,199.9 407.0,197.6 407.8,196.1 408.5,193.3 409.2,194.1 410.0,195.8 410.8,196.1 411.5,196.1 412.2,194.5 413.0,191.8 413.8,188.6 414.5,186.3 415.2,181.5 416.0,183.6 416.8,185.0 417.5,184.9 418.2,188.4 419.0,190.3 419.8,190.9 420.5,193.9 421.2,195.1 422.0,194.3 422.8,192.9 423.5,190.8 424.2,193.5 425.0,199.5 425.8,204.8 426.5,209.4 427.2,208.6 428.0,207.3 428.8,206.4 429.5,205.4 430.2,202.9 431.0,200.4 431.8,199.3 432.5,198.3 433.2,198.0 434.0,197.7 434.8,195.8 435.5,197.1 436.2,193.6 437.0,194.4 437.8,194.6 438.5,196.7 439.2,194.6 440.0,197.7 440.8,200.4 441.5,202.5 442.2,204.8 443.0,201.8 443.8,201.5 444.5,199.9 445.2,198.9 446.0,197.3 446.8,196.1 447.5,198.2 448.2,198.3 449.0,201.9 449.8,198.3 450.5,196.7 451.2,196.0 452.0,194.6 452.8,195.6 453.5,196.6 454.2,194.8 455.0,193.4 455.8,195.9 456.5,198.0 457.2,200.0 458.0,198.8 458.8,198.7 459.5,196.2 460.2,196.2 461.0,199.5 461.8,201.9 462.5,204.8 463.2,199.1 464.0,196.7 464.8,191.9 465.5,188.0 466.2,188.7 467.0,189.3 467.8,187.8 468.5,185.5 469.2,186.1 470.0,187.9 470.8,190.8 471.5,194.4 472.2,196.5 473.0,197.4 473.8,202.4 474.5,202.8 475.2,202.7 476.0,198.4 476.8,195.9 477.5,191.5 478.2,193.0 479.0,190.8 479.8,187.6 480.5,187.3 481.2,187.2 482.0,186.8 482.8,182.1 483.5,180.5 484.2,181.8 485.0,183.4 485.8,184.4 486.5,187.5 487.2,188.4 488.0,193.6 488.8,197.9 489.5,195.3 490.2,191.3 491.0,187.5 491.8,188.1 492.5,188.3 493.2,191.8 494.0,196.0 494.8,200.1 495.5,201.9 496.2,201.5 497.0,201.0 497.8,196.9 498.5,192.8 499.2,191.7 500.0,190.4 500.8,190.4 501.5,185.7 502.2,184.3 503.0,186.0 503.8,182.3 504.5,183.9 505.2,185.6 506.0,186.8 506.8,186.2 507.5,184.5 508.2,183.9 509.0,182.2 509.8,179.7 510.5,174.2 511.2,172.0 512.0,169.7 512.8,166.9 513.5,166.6 514.2,167.8 515.0,166.4 515.8,167.8 516.5,170.3 517.2,172.4 518.0,174.9 518.8,175.3 519.5,175.0 520.2,177.2 521.0,177.4 521.8,174.4 522.5,172.7 523.2,171.0 524.0,166.7 524.8,166.5 525.5,166.6 526.2,163.4 527.0,163.0 527.8,161.7 528.5,162.2 529.2,160.0 530.0,159.4 530.8,156.8 531.5,156.5 532.2,155.8 533.0,153.5 533.8,155.6 534.5,154.4 535.2,151.3 536.0,152.8 536.8,151.2 537.5,151.0 538.2,149.8 539.0,147.1 539.8,146.4 540.5,145.2 541.2,140.5 542.0,137.3 542.8,136.7 543.5,137.4 544.2,139.3 545.0,141.1 545.8,139.7 546.5,139.3 547.2,141.5 548.0,142.2 548.8,145.3 549.5,148.8 550.2,146.4 551.0,142.6 551.8,140.0 552.5,138.9 553.2,136.4 554.0,132.6 554.8,131.1 555.5,129.3 556.2,129.0 557.0,127.3 557.8,126.1 558.5,125.2 559.2,127.5 560.0,128.8 560.8,128.9 561.5,132.3 562.2,133.3 563.0,135.4 563.8,134.5 564.5,133.8 565.2,130.7 566.0,129.7 566.8,128.7 567.5,125.9 568.2,125.9 569.0,124.0 569.8,124.2 570.5,122.9 571.2,122.1 572.0,123.9 572.8,123.3 573.5,121.5 574.2,121.6 575.0,119.5 575.8,120.7 576.5,123.1 577.2,122.8 578.0,125.6 578.8,129.4 579.5,132.4 580.2,127.0 581.0,122.9 581.8,128.0 582.5,140.0 583.2,139.1 584.0,132.7 584.8,131.3 585.5,125.7 586.2,123.3 587.0,121.5 587.8,123.0 588.5,121.7 589.2,121.1 590.0,123.0 590.8,122.7 591.5,124.8 592.2,130.4 593.0,131.9 593.8,130.2 594.5,128.2 595.2,125.4 596.0,125.4 596.8,121.7 597.5,121.4 598.2,117.6 599.0,120.7 599.8,118.9 600.5,119.3 601.2,119.3 602.0,116.2 602.8,114.8 603.5,112.9 604.2,110.9 605.0,109.4 605.8,110.6 606.5,111.2 607.2,112.3 608.0,113.7 608.8,116.6 609.5,117.7 610.2,119.0 610.0,119.0"/>
<text x="621" y="84.0" class="sl">C</text>
<text x="621" y="121.5" class="sl">D</text>
<text x="621" y="136.0" class="sl">B</text>
<text x="621" y="198.0" class="sl">A</text>
</svg>
<div class="tabline"></div>
<div class="tab" id="t1">Cumulative Performance</div>
<div class="tab" id="t2">Discrete Performance</div>
<div class="tab" id="t3">Annualised Performance</div>
<div class="cb" style="left:511px;top:428px"><svg width="13" height="13" viewBox="0 0 13 13"><path d="M3 6.8 L5.4 9.3 L10.2 3.6" fill="none" stroke="#fff" stroke-width="2" stroke-linecap="round" stroke-linejoin="round"/></svg></div>
<div id="sa">Select All</div>
<div class="hdr"></div>
<div class="h" style="left:4px">Key</div><div class="si" style="left:29px"></div>
<div class="h" style="left:45px">Chart</div>
<div class="h" style="left:80.5px">Instrument</div><div class="si" style="left:143px"></div>
<div class="h" style="left:238px">1m</div><div class="si" style="left:260.5px"></div>
<div class="h" style="left:278px">3m</div><div class="si" style="left:300.5px"></div>
<div class="h" style="left:317.5px">6m</div><div class="si" style="left:339.5px"></div>
<div class="h" style="left:359.5px">1y</div><div class="si" style="left:378.5px"></div>
<div class="h" style="left:399.5px">3y</div><div class="si" style="left:418.5px"></div>
<div class="h" style="left:440px">5y</div><div class="si red" style="left:458px"></div>
<div class="h" style="left:478.5px">10y</div><div class="si" style="left:502.5px"></div>
<div class="h" style="left:523px">Start of Data</div><div class="si" style="left:594px"></div>
<div class="row" style="top:490px"><div class="key" style="color:#e8121c">C</div><div class="cb"><svg width="13" height="13" viewBox="0 0 13 13"><path d="M3 6.8 L5.4 9.3 L10.2 3.6" fill="none" stroke="#fff" stroke-width="2" stroke-linecap="round" stroke-linejoin="round"/></svg></div><div class="ins">RLP Governed Portfolio 4<br>Pension</div><div class="v" style="left:253px">0.2%</div><div class="v" style="left:292.8px">0.3%</div><div class="v" style="left:332.8px">4.5%</div><div class="v" style="left:372.5px">15.4%</div><div class="v" style="left:413px">12.8%</div><div class="v" style="left:453.3px">33.4%</div><div class="v" style="left:494.5px">90.3%</div><div class="v" style="left:562.4px">236.5%</div><svg class="del" width="13" height="13" viewBox="0 0 13 13"><path d="M4 0.5 H9 L12.5 4 V9 L9 12.5 H4 L0.5 9 V4 Z" fill="#d0021b" stroke="#b0000f" stroke-width="0.8"/><path d="M4.3 4.3 L8.7 8.7 M8.7 4.3 L4.3 8.7" stroke="#fff" stroke-width="1.9" stroke-linecap="round"/></svg></div>
<div class="row" style="top:527px"><div class="key" style="color:#f5a623">D</div><div class="cb"><svg width="13" height="13" viewBox="0 0 13 13"><path d="M3 6.8 L5.4 9.3 L10.2 3.6" fill="none" stroke="#fff" stroke-width="2" stroke-linecap="round" stroke-linejoin="round"/></svg></div><div class="ins">RLP Governed Portfolio 5<br>Pension</div><div class="v" style="left:253px">-0.2%</div><div class="v" style="left:292.8px">0.2%</div><div class="v" style="left:332.8px">4.2%</div><div class="v" style="left:372.5px">13.9%</div><div class="v" style="left:413px">9.3%</div><div class="v" style="left:453.3px">26.3%</div><div class="v" style="left:494.5px">74.8%</div><div class="v" style="left:562.4px">205.2%</div><svg class="del" width="13" height="13" viewBox="0 0 13 13"><path d="M4 0.5 H9 L12.5 4 V9 L9 12.5 H4 L0.5 9 V4 Z" fill="#d0021b" stroke="#b0000f" stroke-width="0.8"/><path d="M4.3 4.3 L8.7 8.7 M8.7 4.3 L4.3 8.7" stroke="#fff" stroke-width="1.9" stroke-linecap="round"/></svg></div>
<div class="row" style="top:564px"><div class="key" style="color:#3c7dbd">B</div><div class="cb"><svg width="13" height="13" viewBox="0 0 13 13"><path d="M3 6.8 L5.4 9.3 L10.2 3.6" fill="none" stroke="#fff" stroke-width="2" stroke-linecap="round" stroke-linejoin="round"/></svg></div><div class="ins">RLP Governed Portfolio 1<br>Pension</div><div class="v" style="left:253px">-0.1%</div><div class="v" style="left:292.8px">0.2%</div><div class="v" style="left:332.8px">4.2%</div><div class="v" style="left:372.5px">14.0%</div><div class="v" style="left:413px">7.4%</div><div class="v" style="left:453.3px">23.8%</div><div class="v" style="left:494.5px">73.6%</div><div class="v" style="left:562.4px">199.8%</div><svg class="del" width="13" height="13" viewBox="0 0 13 13"><path d="M4 0.5 H9 L12.5 4 V9 L9 12.5 H4 L0.5 9 V4 Z" fill="#d0021b" stroke="#b0000f" stroke-width="0.8"/><path d="M4.3 4.3 L8.7 8.7 M8.7 4.3 L4.3 8.7" stroke="#fff" stroke-width="1.9" stroke-linecap="round"/></svg></div>
<div class="row" style="top:601px"><div class="key" style="color:#a0101a">A</div><div class="cb"><svg width="13" height="13" viewBox="0 0 13 13"><path d="M3 6.8 L5.4 9.3 L10.2 3.6" fill="none" stroke="#fff" stroke-width="2" stroke-linecap="round" stroke-linejoin="round"/></svg></div><div class="ins">PN Mixed Investment 20-60%<br>Shares</div><div class="v" style="left:253px">-1.0%</div><div class="v" style="left:292.8px">0.2%</div><div class="v" style="left:332.8px">3.4%</div><div class="v" style="left:372.5px">11.6%</div><div class="v" style="left:413px">0.6%</div><div class="v" style="left:453.3px">12.0%</div><div class="v" style="left:494.5px">45.6%</div><div class="v" style="left:562.4px">592.0%</div><svg class="del" width="13" height="13" viewBox="0 0 13 13"><path d="M4 0.5 H9 L12.5 4 V9 L9 12.5 H4 L0.5 9 V4 Z" fill="#d0021b" stroke="#b0000f" stroke-width="0.8"/><path d="M4.3 4.3 L8.7 8.7 M8.7 4.3 L4.3 8.7" stroke="#fff" stroke-width="1.9" stroke-linecap="round"/></svg></div>
<div style="position:absolute;left:640px;top:196px;width:1px;height:250px;background:#000"></div>
<div style="position:absolute;left:640px;top:482px;width:1px;height:2px;background:#f5a623"></div>
<div style="position:absolute;left:640px;top:469px;width:1px;height:10px;background:#e4e4e4"></div>
</body></html>
